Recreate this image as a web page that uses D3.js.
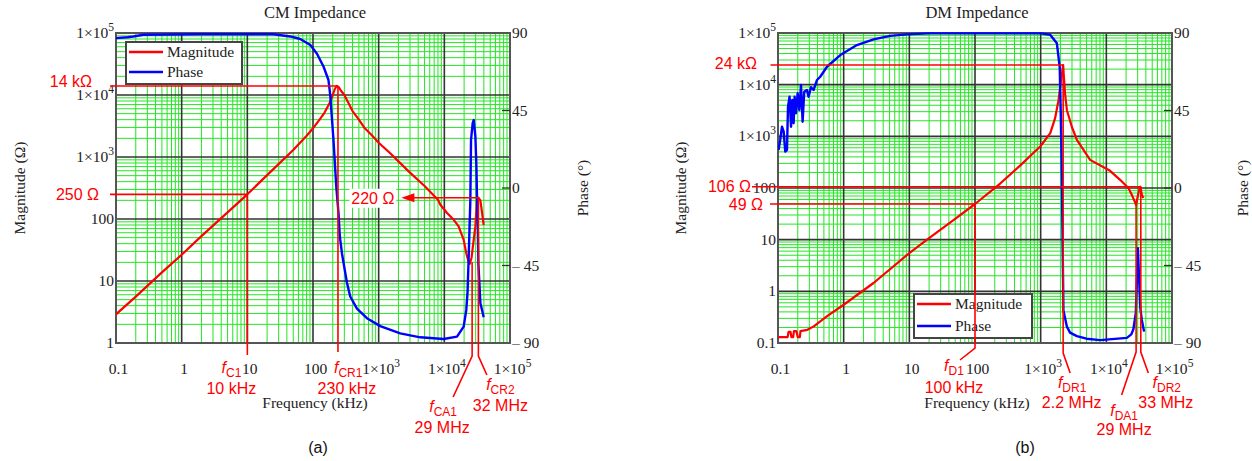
<!DOCTYPE html>
<html><head><meta charset="utf-8">
<script src="https://cdn.jsdelivr.net/npm/d3@7"></script>
<style>body{margin:0;background:#fff;} svg{display:block;}</style>
</head><body><svg id="c" width="1252" height="461"></svg>
<script>
// ---------- data ----------
const freqTicks = [0.1, 1, 10, 100, 1000, 10000, 100000];
const phaseTicks = [90, 45, 0, -45, -90];
const cmMagTicks = [1, 10, 100, 1000, 10000, 100000];
const dmMagTicks = [0.1, 1, 10, 100, 1000, 10000, 100000];
const seriesNames = ["Magnitude", "Phase"];
const titles = ["CM Impedance", "DM Impedance"];

// CM magnitude (kHz, ohm)
const cmMagFreq = [0.1, 0.2, 0.5, 1, 2, 5, 10, 20, 50, 80, 100, 130, 150, 180, 200, 215, 230, 245, 270, 300, 350, 400, 500, 600, 800, 1000, 1500, 2000, 3000, 5000, 8000, 8700, 11000, 13900, 16500, 19700, 21600, 23200, 24500, 26000, 28000, 29700, 31500, 33000, 35400, 37600, 39700];
const cmMagVal  = [2.9, 5.6, 13.8, 26.5, 53, 128, 250, 510, 1300, 2200, 2900, 4200, 5200, 7500, 10000, 12500, 14000, 13500, 11500, 10000, 7300, 5500, 4000, 3000, 2200, 1700, 1150, 850, 560, 340, 205, 170, 125, 97, 76, 46, 28, 21, 19, 24, 46, 76, 200, 220, 200, 125, 80];
// CM phase (kHz, deg)
const cmPhaseFreq = [0.1, 0.15, 0.184, 0.26, 1.9, 25, 45, 64, 91, 115, 145, 172, 183, 205, 226, 245, 254, 260, 276, 329, 369, 467, 663, 1058, 2130, 4300, 9750, 15600, 19700, 21600, 22600, 23400, 24900, 25500, 27000, 28000, 29000, 29700, 30800, 31500, 32500, 33000, 34000, 35400, 37600, 39700];
const cmPhaseVal  = [87, 87.5, 88, 89, 89.3, 89.3, 88, 86.5, 83, 78, 70.4, 62.7, 54, 28, 1, -15, -26, -30, -38, -55, -63, -70, -75.6, -80.2, -84.4, -86.7, -87.7, -86.3, -80.5, -70.8, -60, -42, -7, 28, 37.6, 39.5, 33.7, 29.8, 12.4, -7, -26, -44, -53.5, -67, -71, -75];

// DM magnitude (kHz, ohm)
const dmMagFreq = [0.1, 0.14, 0.145, 0.155, 0.16, 0.17, 0.175, 0.19, 0.2, 0.215, 0.22, 0.28, 0.35, 0.56, 1, 2.85, 10, 18.6, 47, 100, 242, 500, 1000, 1400, 1660, 1870, 2000, 2150, 2200, 2250, 2350, 2510, 3000, 3560, 5660, 11400, 16200, 21700, 24400, 28400, 29800, 31500, 33000, 34700, 36700];
const dmMagVal  = [0.13, 0.13, 0.165, 0.165, 0.13, 0.13, 0.17, 0.17, 0.13, 0.13, 0.17, 0.18, 0.21, 0.33, 0.55, 1.45, 5.5, 10, 24, 49, 122, 280, 650, 1150, 2250, 5000, 10000, 20000, 24000, 15000, 6800, 3200, 1500, 850, 350, 215, 144, 100, 74, 47, 65, 90, 106, 74, 64];
// DM phase (kHz, deg)
const dmPhaseFreq = [0.102, 0.108, 0.115, 0.122, 0.129, 0.137, 0.142, 0.150, 0.158, 0.165, 0.173, 0.179, 0.188, 0.199, 0.211, 0.224, 0.237, 0.251, 0.276, 0.292, 0.318, 0.348, 0.392, 0.44, 0.557, 0.89, 1.59, 2.85, 5.1, 9.2, 20, 1000, 1395, 1766, 1950, 2030, 2100, 2220, 2510, 2800, 3560, 5000, 8050, 20500, 24000, 25800, 28100, 30200, 31900, 33000, 34700, 37600];
const dmPhaseVal  = [22.1, 27.9, 35.6, 32.7, 21.1, 22.1, 47.2, 53, 35.6, 51.1, 37.6, 53, 43.4, 55, 45.3, 59.8, 38.5, 55.9, 56.9, 53, 58.5, 56.9, 62.7, 64.6, 70.4, 77.2, 83, 86.3, 88.3, 89.2, 89.8, 89.8, 89, 84, 70, 41, 6.6, -71, -80.5, -84, -86, -87.5, -88.3, -87, -85, -82, -72.7, -35, -57, -70, -76.6, -83.4];

// annotations
const cmLevelVals = [14000, 250];
const cmLevelLabels = ["14 kΩ", "250 Ω"];
const cmMarkFreq = [10, 240, 26500, 33000];
const cmMarkVal = [250, 14000, 20, 220];
const cmMarkNames = ["C1", "CR1", "CA1", "CR2"];
const cmMarkLabels = ["10 kHz", "230 kHz", "29 MHz", "32 MHz"];
const cmArrowLabel = "220 Ω";

const dmLevelVals = [24000, 106, 49];
const dmLevelLabels = ["24 kΩ", "106 Ω", "49 Ω"];
const dmMarkFreq = [100, 2200, 28400, 33500];
const dmMarkVal = [49, 24000, 47, 106];
const dmMarkNames = ["D1", "DR1", "DA1", "DR2"];
const dmMarkLabels = ["100 kHz", "2.2 MHz", "29 MHz", "33 MHz"];

const panelTags = ["(a)", "(b)"];

// ---------- drawing ----------
const svg = d3.select("#c");
svg.append("rect").attr("width",1252).attr("height",461).attr("fill","#fff");
const SERIF = "'Liberation Serif','Times New Roman',serif";
const SANS = "'Liberation Sans',Arial,sans-serif";
const RED = "#ff0000", BLUE = "#0000ff", GREEN = "#22e622";

function drawPanel(p, idx) {
  const g = svg.append("g");
  const x = d3.scaleLog().domain([0.1, 1e5]).range([p.L, p.R]);
  const y = d3.scaleLog().domain([p.magTicks[0], 1e5]).range([p.B, p.T]);
  const yp = d3.scaleLinear().domain([-90, 90]).range([p.B, p.T]);

  // minor grid
  const minorX = [], minorY = [];
  freqTicks.slice(0, -1).forEach(d => { for (let k = 2; k <= 9; k++) minorX.push(d * k); });
  p.magTicks.slice(0, -1).forEach(d => { for (let k = 2; k <= 9; k++) minorY.push(d * k); });
  g.selectAll(".gx").data(minorX).enter().append("line")
    .attr("x1", d => x(d)).attr("x2", d => x(d)).attr("y1", p.T).attr("y2", p.B)
    .attr("stroke", GREEN).attr("stroke-width", 1);
  g.selectAll(".gy").data(minorY).enter().append("line")
    .attr("y1", d => y(d)).attr("y2", d => y(d)).attr("x1", p.L).attr("x2", p.R)
    .attr("stroke", GREEN).attr("stroke-width", 1);
  // major grid
  g.selectAll(".Gx").data(freqTicks).enter().append("line")
    .attr("x1", d => x(d)).attr("x2", d => x(d)).attr("y1", p.T).attr("y2", p.B)
    .attr("stroke", "#333").attr("stroke-width", 1.6);
  g.selectAll(".Gy").data(p.magTicks).enter().append("line")
    .attr("y1", d => y(d)).attr("y2", d => y(d)).attr("x1", p.L).attr("x2", p.R)
    .attr("stroke", "#333").attr("stroke-width", 1.6);
  g.append("rect").attr("x", p.L).attr("y", p.T).attr("width", p.R - p.L).attr("height", p.B - p.T)
    .attr("fill", "none").attr("stroke", "#555").attr("stroke-width", 2);

  // phase ticks (inside)
  g.selectAll(".pt").data(phaseTicks.filter(d => Math.abs(d) < 90)).enter().append("line")
    .attr("x1", p.R - 8).attr("x2", p.R).attr("y1", d => yp(d)).attr("y2", d => yp(d))
    .attr("stroke", "#333").attr("stroke-width", 1.3);

  // clip
  const cid = "clip" + idx;
  svg.append("clipPath").attr("id", cid).append("rect")
    .attr("x", p.L).attr("y", p.T - 2).attr("width", p.R - p.L).attr("height", p.B - p.T + 4);

  const magLine = d3.line().x(d => x(d[0])).y(d => y(d[1]));
  const phLine = d3.line().x(d => x(d[0])).y(d => yp(d[1]));
  g.append("path").datum(d3.zip(p.magF, p.magV)).attr("d", magLine)
    .attr("fill", "none").attr("stroke", RED).attr("stroke-width", 2.2)
    .attr("stroke-linejoin", "round").attr("clip-path", `url(#${cid})`);
  g.append("path").datum(d3.zip(p.phF, p.phV)).attr("d", phLine)
    .attr("fill", "none").attr("stroke", BLUE).attr("stroke-width", 2.4)
    .attr("stroke-linejoin", "round").attr("clip-path", `url(#${cid})`);

  // tick labels
  const fmt = (t, v) => {
    if (v < 1000) { t.text(String(v)); }
    else {
      t.append("tspan").text("1×10");
      t.append("tspan").attr("dy", -7).attr("font-size", 11.5).text(Math.round(Math.log10(v)));
    }
  };
  p.magTicks.forEach(v => {
    const t = g.append("text").attr("x", p.L - 2).attr("y", y(v) + 5)
      .attr("text-anchor", "end").attr("font-family", SERIF).attr("font-size", 15.5).attr("fill", "#222");
    fmt(t, v);
  });
  freqTicks.forEach(v => {
    const t = g.append("text").attr("x", x(v) + 2.5).attr("y", p.B + 31)
      .attr("text-anchor", "middle").attr("font-family", SERIF).attr("font-size", 15.5).attr("fill", "#222");
    fmt(t, v);
  });
  phaseTicks.forEach(v => {
    g.append("text").attr("x", p.R + 2).attr("y", yp(v) + 5)
      .attr("font-family", SERIF).attr("font-size", 15.5).attr("fill", "#222")
      .text(v < 0 ? "– " + Math.abs(v) : String(v));
  });

  // titles & labels
  g.append("text").attr("x", (p.L + p.R) / 2 + 2).attr("y", 18).attr("text-anchor", "middle")
    .attr("font-family", SERIF).attr("font-size", 16.5).attr("fill", "#222").text(p.title);
  g.append("text").attr("x", (p.L + p.R) / 2 + 2).attr("y", 408).attr("text-anchor", "middle")
    .attr("font-family", SERIF).attr("font-size", 15.5).attr("fill", "#222").text("Frequency (kHz)");
  g.append("text").attr("transform", `translate(${p.ylabX},188) rotate(-90)`).attr("text-anchor", "middle")
    .attr("dominant-baseline", "central")
    .attr("font-family", SERIF).attr("font-size", 15.5).attr("fill", "#222").text("Magnitude (Ω)");
  g.append("text").attr("transform", `translate(${p.phLabX},188) rotate(-90)`).attr("text-anchor", "middle")
    .attr("dominant-baseline", "central")
    .attr("font-family", SERIF).attr("font-size", 15.5).attr("fill", "#222").text("Phase (°)");
  g.append("text").attr("x", p.tagX).attr("y", 453).attr("text-anchor", "middle")
    .attr("font-family", SANS).attr("font-size", 16).attr("fill", "#111").text(p.tag);

  // legend
  const lg = p.legend;
  g.append("rect").attr("x", lg.x).attr("y", lg.y).attr("width", lg.w).attr("height", lg.h)
    .attr("fill", "#fff").attr("stroke", "#444").attr("stroke-width", 2);
  [RED, BLUE].forEach((c, i) => {
    const yy = i === 0 ? lg.y + 10 : lg.y + lg.h - 12;
    g.append("line").attr("x1", lg.x + 3).attr("x2", lg.x + 37).attr("y1", yy).attr("y2", yy)
      .attr("stroke", c).attr("stroke-width", 2.4);
    g.append("text").attr("x", lg.x + 41).attr("y", yy + 5).attr("font-family", SERIF)
      .attr("font-size", 15.5).attr("fill", "#222").text(seriesNames[i]);
  });
  return {g, x, y, yp};
}

function fLabel(g, cx, cy, name, anchor) {
  const t = g.append("text").attr("x", cx).attr("y", cy).attr("text-anchor", anchor || "middle")
    .attr("font-family", SANS).attr("font-size", 16).attr("fill", RED);
  t.append("tspan").attr("font-style", "italic").text("f");
  t.append("tspan").attr("font-size", 12).attr("dy", 4).text(name);
}
function redText(g, x, y, s, anchor) {
  return g.append("text").attr("x", x).attr("y", y).attr("text-anchor", anchor || "middle")
    .attr("dominant-baseline", "central")
    .attr("font-family", SANS).attr("font-size", 16).attr("fill", RED).text(s);
}
function redLine(g, pts) {
  g.append("path").attr("d", d3.line()(pts)).attr("fill", "none")
    .attr("stroke", RED).attr("stroke-width", 1.6);
}

// ---- panel a ----
const pa = {L:116, R:510, T:33, B:343, magTicks:cmMagTicks, magF:cmMagFreq, magV:cmMagVal,
  phF:cmPhaseFreq, phV:cmPhaseVal, title:titles[0], tag:panelTags[0], tagX:318, ylabX:19, phLabX:582,
  legend:{x:126, y:42, w:116, h:42}};
const A = drawPanel(pa, 0);
{
  const {g, x, y} = A;
  const mx = cmMarkFreq.map(x), my = cmMarkVal.map(y);
  // level lines
  redLine(g, [[110, y(cmLevelVals[0])], [mx[1], y(cmLevelVals[0])]]);
  redText(g, 92, y(cmLevelVals[0]) - 4, cmLevelLabels[0], "end");
  redLine(g, [[110, y(cmLevelVals[1])], [mx[0], y(cmLevelVals[1])]]);
  redText(g, 99, y(cmLevelVals[1]), cmLevelLabels[1], "end");
  // markers
  redLine(g, [[mx[0], my[0]], [mx[0], pa.B + 12]]);
  fLabel(g, mx[0] - 6, pa.B + 30, cmMarkNames[0], "end");
  redText(g, mx[0] - 16, pa.B + 45, cmMarkLabels[0]);
  redLine(g, [[mx[1], my[1]], [mx[1], pa.B + 9]]);
  fLabel(g, mx[1] - 4, pa.B + 30, cmMarkNames[1], "start");
  redText(g, mx[1] + 9, pa.B + 45, cmMarkLabels[1]);
  redLine(g, [[mx[2], my[2]], [mx[2], pa.B + 13], [mx[2] - 19, pa.B + 54]]);
  fLabel(g, mx[2] - 29, pa.B + 69, cmMarkNames[2]);
  redText(g, mx[2] - 30, pa.B + 84, cmMarkLabels[2]);
  redLine(g, [[mx[3], my[3]], [mx[3], pa.B + 13], [mx[3] + 8.5, pa.B + 32]]);
  fLabel(g, mx[3] + 22, pa.B + 47, cmMarkNames[3]);
  redText(g, mx[3] + 22, pa.B + 62, cmMarkLabels[3]);
  // 220 ohm arrow
  const ay = my[3];
  const tipX = mx[3] - 77;
  g.append("rect").attr("x", tipX - 52).attr("y", ay - 9).attr("width", 47).attr("height", 19).attr("fill", "#fff");
  redText(g, tipX - 7, ay + 1, cmArrowLabel, "end");
  redLine(g, [[tipX + 10, ay], [mx[3], ay]]);
  g.append("path").attr("d", d3.line()([[tipX, ay], [tipX + 13, ay - 4.5], [tipX + 13, ay + 4.5]]) + "Z")
    .attr("fill", RED);
}

// ---- panel b ----
const pb = {L:778, R:1172, T:33, B:343, magTicks:dmMagTicks, magF:dmMagFreq, magV:dmMagVal,
  phF:dmPhaseFreq, phV:dmPhaseVal, title:titles[1], tag:panelTags[1], tagX:1025, ylabX:680, phLabX:1242,
  legend:{x:914, y:294, w:118, h:44}};
const B = drawPanel(pb, 1);
{
  const {g, x, y} = B;
  const mx = dmMarkFreq.map(x), my = dmMarkVal.map(y);
  redLine(g, [[770.5, y(dmLevelVals[0])], [mx[1], y(dmLevelVals[0])]]);
  redText(g, 757, y(dmLevelVals[0]) - 2, dmLevelLabels[0], "end");
  redLine(g, [[752, y(dmLevelVals[1])], [mx[3], y(dmLevelVals[1])]]);
  redText(g, 751, y(dmLevelVals[1]), dmLevelLabels[1], "end");
  redLine(g, [[770, y(dmLevelVals[2])], [mx[0], y(dmLevelVals[2])]]);
  redText(g, 763, y(dmLevelVals[2]), dmLevelLabels[2], "end");

  redLine(g, [[mx[0], my[0]], [mx[0], pb.B + 5], [mx[0] - 15, pb.B + 17]]);
  fLabel(g, mx[0] - 21, pb.B + 28, dmMarkNames[0]);
  redText(g, mx[0] - 21, pb.B + 44, dmMarkLabels[0]);
  redLine(g, [[mx[1], my[1]], [mx[1], pb.B + 10], [mx[1] + 7, pb.B + 30]]);
  fLabel(g, mx[1] + 9, pb.B + 45, dmMarkNames[1]);
  redText(g, mx[1] + 8.5, pb.B + 59, dmMarkLabels[1]);
  redLine(g, [[mx[2], my[2]], [mx[2], pb.B + 9], [mx[2] - 14.5, pb.B + 52]]);
  fLabel(g, mx[2] - 12, pb.B + 73, dmMarkNames[2]);
  redText(g, mx[2] - 12, pb.B + 86, dmMarkLabels[2]);
  redLine(g, [[mx[3], my[3]], [mx[3], pb.B + 9], [mx[3] + 7.5, pb.B + 30]]);
  fLabel(g, mx[3] + 26, pb.B + 45, dmMarkNames[3]);
  redText(g, mx[3] + 25, pb.B + 59, dmMarkLabels[3]);
}
</script></body></html>
